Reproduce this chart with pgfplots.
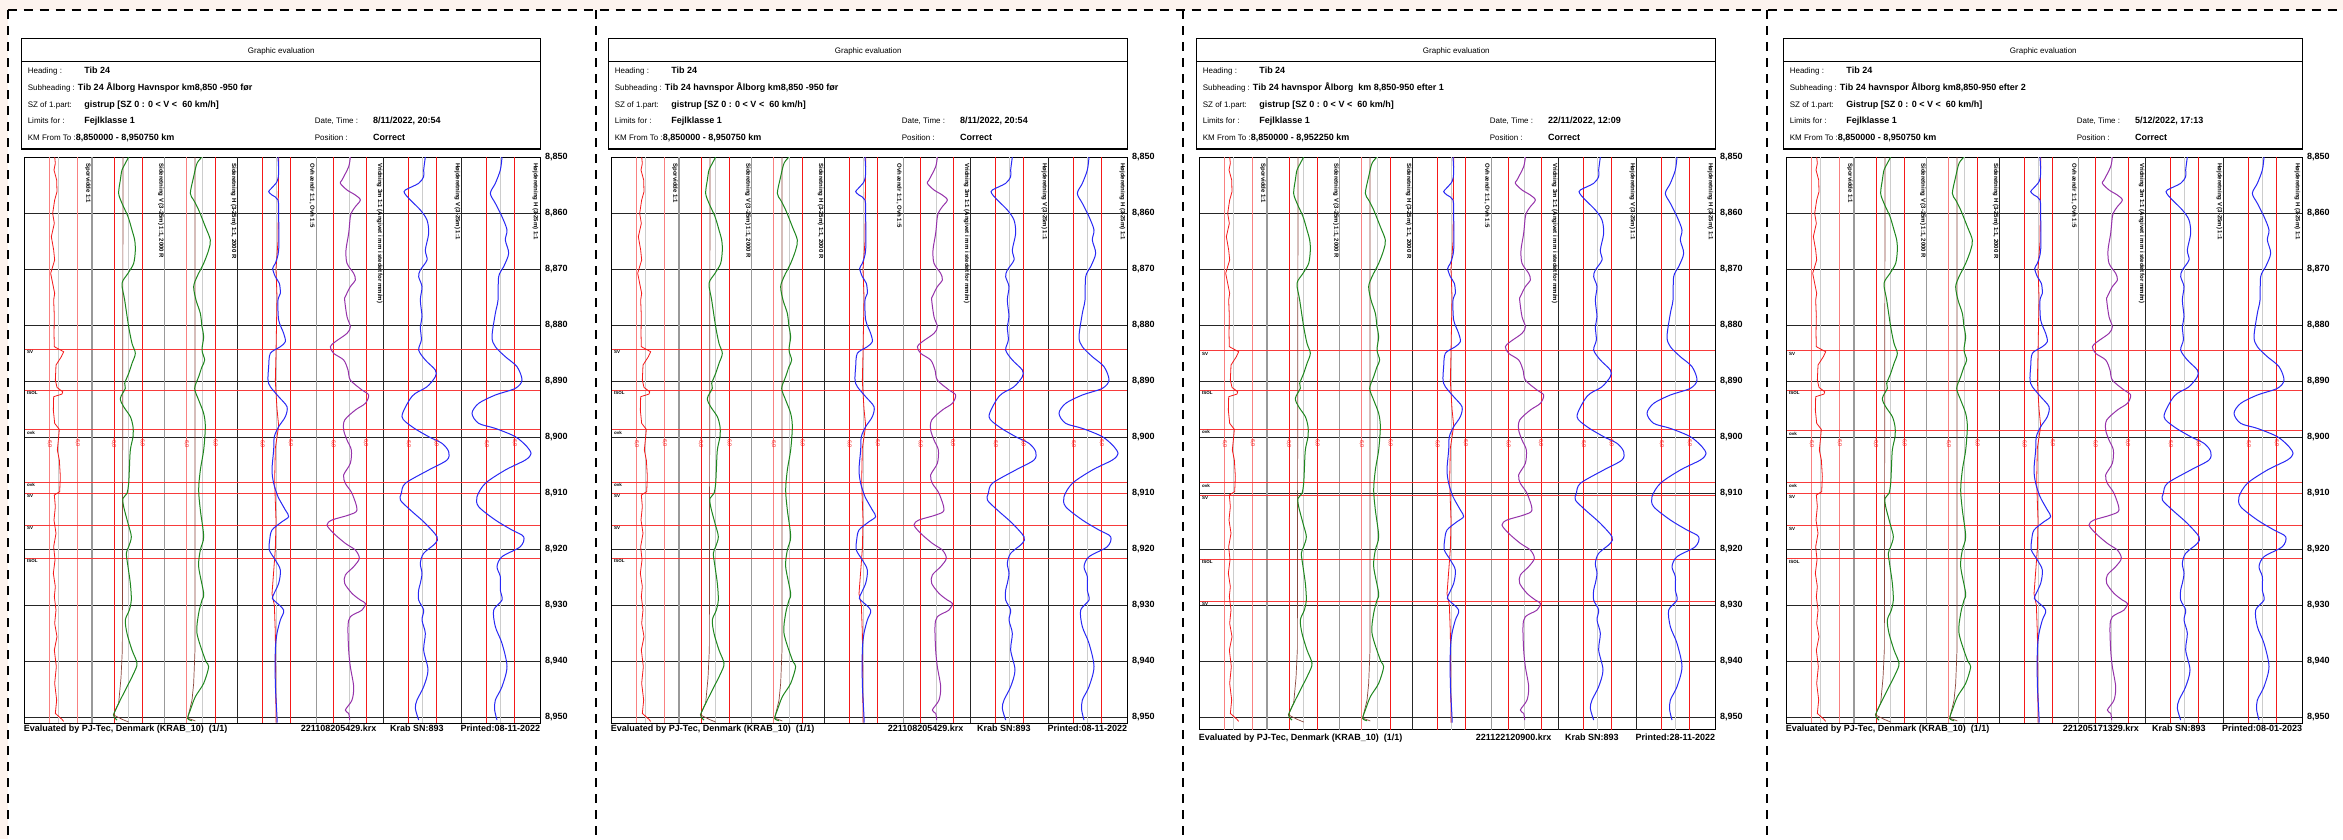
\documentclass[border=0pt]{standalone}
\usepackage{fontspec}
\setmainfont{Liberation Sans}
\usepackage{pgfplots}
\usepackage{pgfplotstable}
\pgfplotsset{compat=1.18}
\definecolor{cgreen}{RGB}{30,135,30}
\definecolor{cbrown}{RGB}{140,70,60}
\definecolor{cblue}{RGB}{40,40,245}
\definecolor{cpurple}{RGB}{150,50,170}
\definecolor{cred}{RGB}{245,25,25}
\definecolor{peach}{RGB}{253,243,238}

% x = position across the sheet (1/3 px units), y = metres from km 8,850
\pgfplotstableread{
x y
98 0
100 1.13
96 2.32
104 4.11
105 6.19
98 7.68
92 10.06
97 11.85
88 14.23
95 16.61
98 18.39
86 20.77
92 22.56
98 24.35
95 25.54
97 28.52
96 31.49
97 33.87
125 34.77
118 35.66
102 37.15
100 39.83
105 41.14
122 41.91
120 42.33
95 42.80
94 45.18
98 47.56
112 48.63
110 49.94
106 52.32
112 54.11
115 57.08
113 59.76
97 60.36
100 62.44
96 64.82
102 67.20
95 69.58
99 71.96
94 74.34
100 76.72
97 78.51
102 80.90
98 83.28
105 85.66
97 88.04
103 91.01
98 93.99
104 96.97
100 99.35
120 100.42
125 100.78
}\chA
\pgfplotstableread{
x y
320 0
310 1.13
300 2.32
295 4.11
290 6.49
300 8.27
318 10.65
330 13.04
338 14.82
340 16.61
335 18.99
318 20.77
300 22.56
308 25.54
320 30.30
330 33.28
340 35.06
330 36.85
320 38.64
308 40.42
310 41.31
295 43.10
305 44.59
325 46.37
333 48.16
333 49.94
325 52.32
322 55.89
320 58.27
315 60.06
303 60.95
305 62.44
318 65.42
328 67.80
320 69.58
313 70.77
318 73.15
325 76.13
328 79.11
322 80.90
310 82.68
315 85.06
330 88.04
345 90.42
335 92.21
310 95.18
290 97.56
275 99.65
285 100.54
}\chB
\pgfplotstableread{
x y
303 0
302 50
301 88
297 93
290 97.5
274 99.6
300 100.4
320 100.9
}\chBb
\pgfplotstableread{
x y
540 0
525 1.13
515 3.51
505 6.49
515 7.68
530 9.46
550 12.44
565 14.82
560 16.61
545 18.99
525 21.37
515 23.16
522 25.54
535 27.92
540 30.30
545 32.09
540 34.47
548 36.25
540 37.44
530 39.23
518 41.31
530 43.40
545 45.78
550 48.16
545 52.32
535 55.89
530 59.46
535 63.03
545 67.80
535 70.18
530 73.15
545 77.92
540 79.11
530 81.49
525 85.06
550 89.82
560 91.01
545 93.99
520 96.37
505 98.75
497 100.24
510 100.66
}\chC
\pgfplotstableread{
x y
519 0
519 88
515 94
510 97
497 100.2
520 100.7
}\chCb
\pgfplotstableread{
x y
768 0
770 2.92
765 4.40
748 5.60
740 6.19
750 6.79
768 7.68
770 10.65
770 16.61
760 18.99
752 19.88
760 21.37
772 22.56
775 24.35
768 25.54
770 29.11
785 31.49
790 32.98
775 33.87
745 35.06
740 37.44
738 39.83
745 41.02
770 42.80
795 44.59
790 46.37
770 48.16
757 49.94
755 52.32
750 55.89
755 58.27
768 60.65
790 63.03
800 64.22
780 65.12
750 66.61
743 68.39
742 70.18
760 71.96
775 73.75
770 76.13
752 78.51
755 79.11
785 80.90
775 82.68
765 85.06
760 88.04
760 94.00
765 100.00
765 101.00
}\chD
\pgfplotstableread{
x y
770 0
768 15
762 20
765 25
762 35
760 40
765 45
770 48
760 52
758 58
762 65
760 70
750 78
757 80
760 85
762 100
762 101
}\chDr
\pgfplotstableread{
x y
985 0
980 1.73
960 4.11
955 4.70
975 5.89
1000 6.79
1015 7.68
1000 8.87
990 9.76
985 10.65
980 13.63
972 16.61
975 18.99
995 20.77
1000 21.96
985 23.15
970 24.94
968 25.54
975 28.52
985 30.30
975 31.49
940 32.98
925 33.87
935 35.06
965 36.25
978 38.04
985 39.83
1020 41.61
1040 42.50
1030 43.99
1000 45.18
968 46.97
965 48.75
975 50.54
988 52.32
985 54.70
965 56.78
970 58.27
990 60.06
1005 63.03
980 63.93
930 64.82
915 65.71
935 67.20
970 68.99
1000 70.18
1012 71.67
995 73.15
970 74.64
968 76.13
990 77.92
1015 79.11
1030 79.71
1020 80.90
985 82.09
978 83.87
980 88.04
985 91.01
995 94.58
990 96.97
970 98.75
980 99.35
983 100.54
}\chE
\pgfplotstableread{
x y
1210 0
1205 2.32
1205 3.51
1190 4.70
1150 5.89
1148 6.49
1165 7.68
1195 9.46
1215 11.25
1220 13.63
1210 16.61
1215 18.39
1195 20.18
1190 21.37
1200 23.16
1195 25.54
1200 28.52
1195 30.30
1198 32.68
1190 34.47
1210 36.25
1240 38.04
1240 39.23
1215 41.02
1180 42.21
1162 43.40
1140 46.37
1170 48.16
1220 49.94
1260 51.13
1280 52.60
1275 54.11
1220 55.89
1150 58.27
1138 60.06
1135 61.25
1165 63.03
1210 65.42
1245 67.80
1240 68.99
1205 70.77
1195 72.56
1200 74.34
1195 76.13
1190 77.32
1190 79.11
1205 80.90
1200 82.68
1210 85.06
1205 88.04
1218 91.61
1205 94.58
1185 96.97
1180 98.46
1190 100.54
}\chF
\pgfplotstableread{
x y
1440 0
1435 2.32
1420 4.70
1405 6.49
1420 8.27
1440 10.65
1455 13.04
1450 14.82
1460 17.20
1445 19.58
1430 21.37
1428 25.54
1420 27.92
1410 32.09
1420 33.87
1450 35.66
1485 37.44
1500 39.83
1480 41.31
1420 42.50
1370 43.99
1350 45.78
1370 47.56
1420 48.46
1480 49.94
1515 51.73
1527 53.00
1510 54.11
1450 55.89
1390 58.27
1365 60.65
1370 62.44
1420 64.82
1470 66.61
1505 67.80
1495 69.58
1440 71.37
1425 73.15
1435 74.94
1435 77.32
1440 79.11
1415 80.90
1420 83.87
1440 86.85
1455 91.01
1440 94.58
1420 96.97
1418 98.75
1425 100.54
}\chG

\pgfplotsset{panelaxis/.style={
  scale only axis, width=515.33pt,
  xmin=8, xmax=1554, ymin=0, y dir=reverse,
  axis line style={black, line width=1pt},
  xtick=\empty,
  ytick={0,10,20,30,40,50,60,70,80,90,100},
  yticklabels={\textbf{8,850},\textbf{8,860},\textbf{8,870},\textbf{8,880},\textbf{8,890},\textbf{8,900},\textbf{8,910},\textbf{8,920},\textbf{8,930},\textbf{8,940},\textbf{8,950}},
  yticklabel pos=right,
  major tick length=0pt,
  ymajorgrids, major grid style={black!85, line width=0.9pt},
  yticklabel style={font=\fontsize{9}{10}\selectfont, anchor=west, inner sep=0pt, xshift=5pt},
}}
\tikzset{
  hdr/.style={font=\fontsize{8}{9}\selectfont, inner sep=0pt, anchor=base west},
  hdrb/.style={font=\fontsize{9}{10}\selectfont\bfseries, inner sep=0pt, anchor=base west},
  ttl/.style={rotate=-90, anchor=west, inner sep=0pt, font=\fontsize{6}{7}\selectfont\bfseries},
  lim/.style={rotate=-90, inner sep=0pt, text=cred, font=\fontsize{5.5}{6}\selectfont},
  evl/.style={font=\fontsize{4.5}{5}\selectfont\bfseries, anchor=north west, inner sep=0pt},
  ftr/.style={font=\fontsize{9}{10}\selectfont\bfseries, inner sep=0pt},
}

% #1 dx, #2 ymax (m), #3 height (pt), #4 events, #5 event labels
\newcommand\panel[5]{%
\begin{axis}[panelaxis, at={({#1pt+24.67pt},-157pt)}, anchor=north west, ymax=#2, height=#3pt]
 \pgfplotsinvokeforeach{108,320,540,764,983,1202,1436}{\draw[gray!40, line width=1pt] (axis cs:##1,0) -- (axis cs:##1,#2);}
 \pgfplotsinvokeforeach{210,428,883}{\draw[gray!80, line width=1.6pt] (axis cs:##1,0) -- (axis cs:##1,#2);}
 \pgfplotsinvokeforeach{647,1085,1318}{\draw[black!85, line width=1pt] (axis cs:##1,0) -- (axis cs:##1,#2);}
 \pgfplotsinvokeforeach{276,361,580,721,806,934,1032,1160,1243,1394,1478}{\draw[cred, line width=1pt] (axis cs:##1,0) -- (axis cs:##1,#2);}
 \pgfplotsinvokeforeach{83,167,494}{\draw[cred!55, line width=1.2pt] (axis cs:##1,0) -- (axis cs:##1,#2);}
 \pgfplotsinvokeforeach{#4}{\addplot[cred!85, line width=0.9pt] coordinates {(8,##1) (1554,##1)};}
 \addplot[cbrown, line width=0.7pt] table {\chBb};
 \addplot[cbrown, line width=0.7pt] table {\chCb};
 \addplot[cred, line width=0.8pt] table {\chA};
 \addplot[cgreen, line width=1pt, smooth, tension=0.5] table {\chB};
 \addplot[cgreen, line width=1pt, smooth, tension=0.5] table {\chC};
 \addplot[cred, line width=0.8pt] table {\chDr};
 \addplot[cblue, line width=1pt, smooth, tension=0.5] table {\chD};
 \addplot[cpurple, line width=1pt, smooth, tension=0.5] table {\chE};
 \addplot[cblue, line width=1pt, smooth, tension=0.5] table {\chF};
 \addplot[cblue, line width=1pt, smooth, tension=0.5] table {\chG};
 \node[ttl] at (axis cs:198,1.1) {Sporvidde 1:1};
 \node[ttl] at (axis cs:417,1.1) {Sideretning V (3-25m) 1:1, 2000 R};
 \node[ttl] at (axis cs:635,1.1) {Sideretning H (3-25m) 1:1, 2000 R};
 \node[ttl] at (axis cs:870,1.1) {Ovh ændr 1:1, Ovh 1:5};
 \node[ttl] at (axis cs:1073,1.1) {Vridning 3m 1:1 (Angivet i mm i stedet for mm/m)};
 \node[ttl] at (axis cs:1306,1.1) {Højderetning V (3-25m) 1:1};
 \node[ttl] at (axis cs:1540,1.1) {Højderetning H (3-25m) 1:1};
 \pgfplotsinvokeforeach{83,276,494,721,934,1160,1394}{\node[lim] at (axis cs:##1,51.1) {-6,0};}
 \pgfplotsinvokeforeach{167,361,580,806,1032,1243,1478}{\node[lim] at (axis cs:##1,51.1) {6,0};}
\end{axis}
\foreach \m/\l in {#5} {\node[evl] at ({#1+27},{-157-5.6*\m-1.2}) {\l};}
}

% #1 dx, #2 subheading, #3 SZ, #4 date, #5 km, #6 file, #7 printed, #8 footer baseline
\newcommand\header[8]{%
\begin{scope}[xshift=#1pt]
 \draw[line width=1.3pt] (21.8,-38.3) rectangle (540.8,-149);
 \draw[line width=1pt] (21.8,-61.7) -- (540.8,-61.7);
 \node[hdr, anchor=base] at (281.3,-53.4) {Graphic evaluation};
 \node[hdr] at (27.6,-73.7) {Heading :};
 \node[hdrb] at (84.2,-73.7) {Tib 24};
 \node[hdr] at (27.6,-90.7) {Subheading : \fontsize{9}{10}\selectfont\bfseries #2};
 \node[hdr] at (27.6,-107.3) {SZ of 1.part:};
 \node[hdrb] at (84.2,-107.3) {#3};
 \node[hdr] at (27.6,-123.7) {Limits for :};
 \node[hdrb] at (84.2,-123.7) {Fejlklasse 1};
 \node[hdr] at (314.6,-123.7) {Date, Time :};
 \node[hdrb] at (373,-123.7) {#4};
 \node[hdr] at (27.6,-140) {KM From To :\fontsize{9}{10}\selectfont\bfseries #5};
 \node[hdr] at (314.6,-140) {Position :};
 \node[hdrb] at (373,-140) {Correct};
 \node[ftr, anchor=base west] at (23.7,-#8) {Evaluated by PJ-Tec, Denmark (KRAB\_10)\ \ (1/1)};
 \node[ftr, anchor=base west] at (300.7,-#8) {#6};
 \node[ftr, anchor=base west] at (390,-#8) {Krab SN:893};
 \node[ftr, anchor=base east] at (540.3,-#8) {Printed:#7};
\end{scope}}

\begin{document}
\begin{tikzpicture}[x=1pt,y=1pt]
\useasboundingbox (0,0) rectangle (2343,-839);
\fill[peach] (0,0) rectangle (2343,-839);
\fill[white] (7.7,-10) rectangle (2343,-839);
\foreach \xx in {7.7,596,1183,1767} {\draw[line width=2.2pt, dash pattern=on 9pt off 7pt] (\xx,-10) -- (\xx,-839);}
\draw[line width=2.2pt, dash pattern=on 9pt off 7pt] (7.7,-10) -- (2343,-10);

\header{0}{Tib 24 Ålborg Havnspor km8,850 -950 før}{gistrup [SZ 0 : 0 < V <\ \ 60 km/h]}{8/11/2022, 20:54}{8,850000 - 8,950750 km}{221108205429.krx}{08-11-2022}{731}
\panel{0}{101.07}{566}{34.34,41.61,48.70,58.09,60.05,65.77,71.66}{34.34/SV,41.61/ISOL,48.70/ovk,58.09/ovk,60.05/SV,65.77/SV,71.66/ISOL}

\header{587}{Tib 24 havnspor Ålborg km8,850 -950 før}{gistrup [SZ 0 : 0 < V <\ \ 60 km/h]}{8/11/2022, 20:54}{8,850000 - 8,950750 km}{221108205429.krx}{08-11-2022}{731}
\panel{587}{101.07}{566}{34.34,41.61,48.70,58.09,60.05,65.77,71.66}{34.34/SV,41.61/ISOL,48.70/ovk,58.09/ovk,60.05/SV,65.77/SV,71.66/ISOL}

\header{1175}{Tib 24 havnspor Ålborg\ \ km 8,850-950 efter 1}{gistrup [SZ 0 : 0 < V <\ \ 60 km/h]}{22/11/2022, 12:09}{8,850000 - 8,952250 km}{221122120900.krx}{28-11-2022}{740}
\panel{1175}{102.25}{572.6}{34.59,41.61,48.57,58.16,60.36,71.79,79.29}{34.59/SV,41.61/ISOL,48.57/ovk,58.16/ovk,60.36/SV,71.79/ISOL,79.29/SV}

\header{1762}{Tib 24 havnspor Ålborg km8,850-950 efter 2}{Gistrup [SZ 0 : 0 < V <\ \ 60 km/h]}{5/12/2022, 17:13}{8,850000 - 8,950750 km}{221205171329.krx}{08-01-2023}{731}
\panel{1762}{101.07}{566}{34.59,41.61,48.88,58.10,60.10,65.80,71.70}{34.59/SV,41.61/ISOL,48.88/ovk,58.10/ovk,60.10/SV,65.80/SV,71.70/ISOL}
\end{tikzpicture}
\end{document}
